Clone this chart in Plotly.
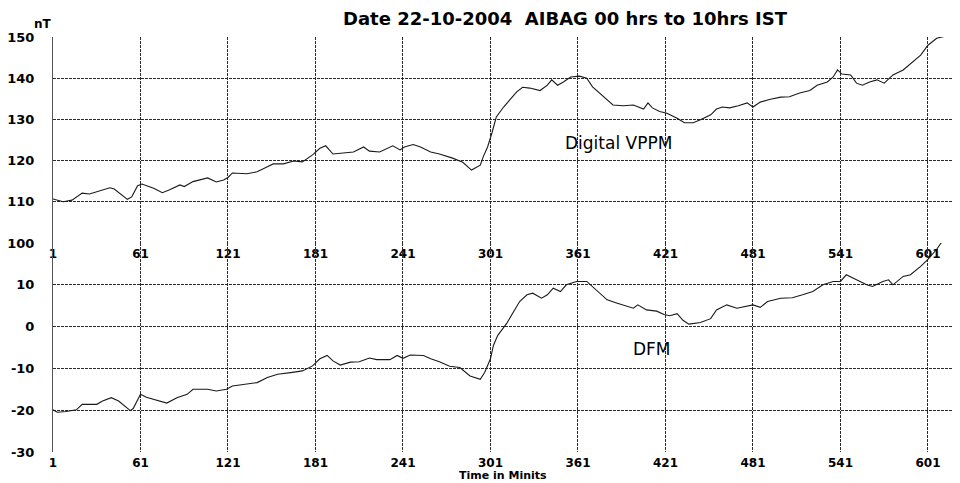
import plotly.graph_objects as go
from plotly.subplots import make_subplots

# ---- data ----
vppm_minutes = [1, 8, 14, 21, 26, 33, 40, 43, 48, 52,
                55, 59, 62, 70, 76, 81, 88, 91, 97, 107,
                113, 118, 121, 124, 134, 141, 148, 152, 159, 166,
                172, 179, 184, 188, 193, 200, 207, 214, 218, 225,
                234, 239, 242, 248, 253, 260, 266, 275, 282, 288,
                294, 296, 299, 302, 305, 310, 314, 319, 323, 328,
                335, 340, 343, 347, 351, 356, 362, 367, 371, 376,
                381, 385, 392, 399, 406, 409, 412, 417, 422, 429,
                434, 440, 445, 452, 456, 460, 465, 471, 477, 481,
                486, 493, 500, 506, 513, 520, 525, 532, 536, 539,
                542, 548, 552, 556, 561, 566, 571, 577, 584, 591,
                596, 601, 607, 614, 618, 621]
vppm_values = [110.7, 110.0, 110.4, 112.1, 111.9, 112.6, 113.4, 113.1, 111.8, 110.6,
               111.2, 113.9, 114.3, 113.3, 112.2, 112.9, 114.1, 113.7, 114.9, 115.8,
               114.8, 115.3, 115.9, 117.0, 116.8, 117.3, 118.5, 119.2, 119.2, 119.9,
               119.7, 121.4, 123.0, 123.6, 121.6, 121.8, 122.1, 123.3, 122.3, 122.1,
               123.6, 122.6, 123.3, 123.9, 123.3, 122.1, 121.6, 120.6, 119.6, 117.7,
               118.9, 120.9, 123.3, 126.7, 130.6, 133.0, 134.7, 136.7, 137.8, 137.6,
               137.0, 138.3, 139.6, 138.3, 139.1, 140.3, 140.5, 140.0, 137.9, 136.4,
               134.7, 133.5, 133.3, 133.5, 132.5, 134.0, 132.8, 131.9, 131.5, 130.3,
               129.2, 129.2, 129.9, 131.1, 132.5, 133.0, 132.8, 133.3, 134.0, 133.0,
               134.2, 134.9, 135.4, 135.5, 136.4, 137.0, 138.3, 139.1, 140.3, 142.0,
               141.0, 140.8, 138.8, 138.3, 139.1, 139.6, 138.8, 140.8, 142.0, 144.0,
               145.6, 148.0, 149.7, 150.3, 151.0, 149.7]

dfm_minutes = [1, 4, 10, 17, 21, 31, 35, 41, 46, 49,
               54, 56, 61, 65, 72, 79, 86, 93, 97, 107,
               113, 120, 124, 134, 141, 148, 155, 164, 172, 179,
               184, 189, 193, 198, 205, 211, 218, 223, 232, 237,
               241, 246, 255, 260, 266, 273, 280, 287, 294, 297,
               301, 303, 306, 312, 316, 321, 326, 330, 336, 340,
               344, 349, 353, 360, 367, 371, 376, 381, 388, 395,
               399, 402, 408, 415, 420, 424, 429, 433, 437, 445,
               452, 456, 463, 470, 477, 481, 486, 491, 500, 508,
               515, 522, 529, 536, 541, 545, 552, 559, 563, 570,
               574, 577, 584, 589, 596, 601, 607, 611, 616, 621]
dfm_values = [-19.9, -20.5, -20.3, -19.9, -18.6, -18.6, -17.8, -17.0, -17.8, -18.6,
              -20.1, -19.6, -16.2, -16.9, -17.6, -18.3, -17.0, -16.2, -15.0, -15.0,
              -15.4, -15.0, -14.2, -13.8, -13.4, -12.2, -11.4, -11.0, -10.6, -9.4,
              -7.7, -6.9, -8.2, -9.2, -8.5, -8.4, -7.5, -7.9, -7.9, -6.9,
              -7.6, -6.8, -6.9, -7.7, -8.4, -9.5, -9.8, -11.8, -12.6, -11.0,
              -7.7, -4.5, -2.1, 0.7, 3.1, 6.0, 7.6, 8.0, 6.8, 7.6,
              9.2, 8.4, 10.0, 10.8, 10.8, 9.6, 8.0, 6.4, 5.6, 4.8,
              4.4, 5.2, 4.0, 3.7, 2.9, 2.6, 3.1, 1.5, 0.6, 1.0,
              1.9, 4.0, 5.2, 4.4, 4.8, 5.2, 4.6, 6.0, 6.8, 6.9,
              7.6, 8.4, 10.0, 10.8, 10.8, 12.4, 11.2, 10.0, 9.6, 10.8,
              11.2, 10.0, 12.0, 12.4, 14.4, 16.1, 18.5, 20.5, 21.2, 21.5]

x_ticks = [1, 61, 121, 181, 241, 301, 361, 421, 481, 541, 601]
top_y_ticks = [100, 110, 120, 130, 140, 150]
bottom_y_ticks = [-30, -20, -10, 0, 10]

title_text = "Date 22-10-2004  AIBAG 00 hrs to 10hrs IST"

# ---- figure ----
# the page body has an 8px margin, so the figure is drawn 8px right/down
OFF = 8
W, H = 952, 475
ML, MR, MT, MB = 45, 2, 29, 31
pw, ph = W - ML - MR, H - MT - MB


def px(xp):
    return (xp - OFF - ML) / pw


def py(yp):
    return (H - MB - (yp - OFF)) / ph


fig = make_subplots(rows=2, cols=1, vertical_spacing=0)

line_style = dict(color="#1a1a1a", width=1.1)
fig.add_trace(go.Scatter(x=vppm_minutes, y=vppm_values, mode="lines",
                         line=line_style, name="Digital VPPM", showlegend=False), row=1, col=1)
fig.add_trace(go.Scatter(x=dfm_minutes, y=dfm_values, mode="lines",
                         line=line_style, name="DFM", showlegend=False), row=2, col=1)

xtick_font = dict(family="DejaVu Sans", size=12, color="black", weight="bold")
ytick_font = dict(family="DejaVu Sans", size=13, color="black", weight="bold")
grid = dict(showgrid=True, gridcolor="#2a2a2a", gridwidth=1, griddash="3px,1px")

for r in (1, 2):
    fig.update_xaxes(row=r, col=1, range=[1, 621.6], tickmode="array",
                     tickvals=x_ticks, ticktext=[str(t) for t in x_ticks],
                     showticklabels=True, tickfont=xtick_font, ticks="",
                     ticklabelstandoff=2, zeroline=False, showline=False,
                     automargin=False, **grid)

fig.update_yaxes(row=1, col=1, range=[100, 150], tickmode="array",
                 tickvals=top_y_ticks, ticktext=[str(t) for t in top_y_ticks],
                 tickfont=ytick_font, ticks="", ticklabelstandoff=15,
                 zeroline=False, showline=True, linecolor="#555", linewidth=1,
                 automargin=False, **grid)
fig.update_yaxes(row=2, col=1, range=[-30, 20], tickmode="array",
                 tickvals=bottom_y_ticks, ticktext=[str(t) for t in bottom_y_ticks],
                 tickfont=ytick_font, ticks="", ticklabelstandoff=15,
                 zeroline=False, showline=True, linecolor="#555", linewidth=1,
                 automargin=False, **grid)

fig.update_layout(yaxis=dict(domain=[0.5036, 1.0]), yaxis2=dict(domain=[0.0, 0.5036]))

center = dict(xanchor="center", yanchor="middle", showarrow=False)
fig.add_annotation(text=title_text, x=px(565), y=py(19), xref="paper", yref="paper",
                   font=dict(family="DejaVu Sans", size=18, color="black", weight="bold"), **center)
fig.add_annotation(text="Digital VPPM", x=389, y=124.3, xref="x", yref="y",
                   font=dict(family="DejaVu Sans", size=17, color="black"), **center)
fig.add_annotation(text="DFM", x=412, y=-5.3, xref="x2", yref="y2",
                   font=dict(family="DejaVu Sans", size=17, color="black"), **center)
fig.add_annotation(text="nT", x=px(43), y=py(24), xref="paper", yref="paper",
                   font=dict(family="DejaVu Sans", size=12, color="black", weight="bold"), **center)
fig.add_annotation(text="Time in Minits", x=px(503), y=py(475), xref="paper", yref="paper",
                   font=dict(family="DejaVu Sans", size=11, color="black", weight="bold"), **center)

fig.update_layout(width=W, height=H, margin=dict(l=ML, r=MR, t=MT, b=MB, autoexpand=False),
                  paper_bgcolor="white", plot_bgcolor="white", showlegend=False)

fig.write_html("out.html")
